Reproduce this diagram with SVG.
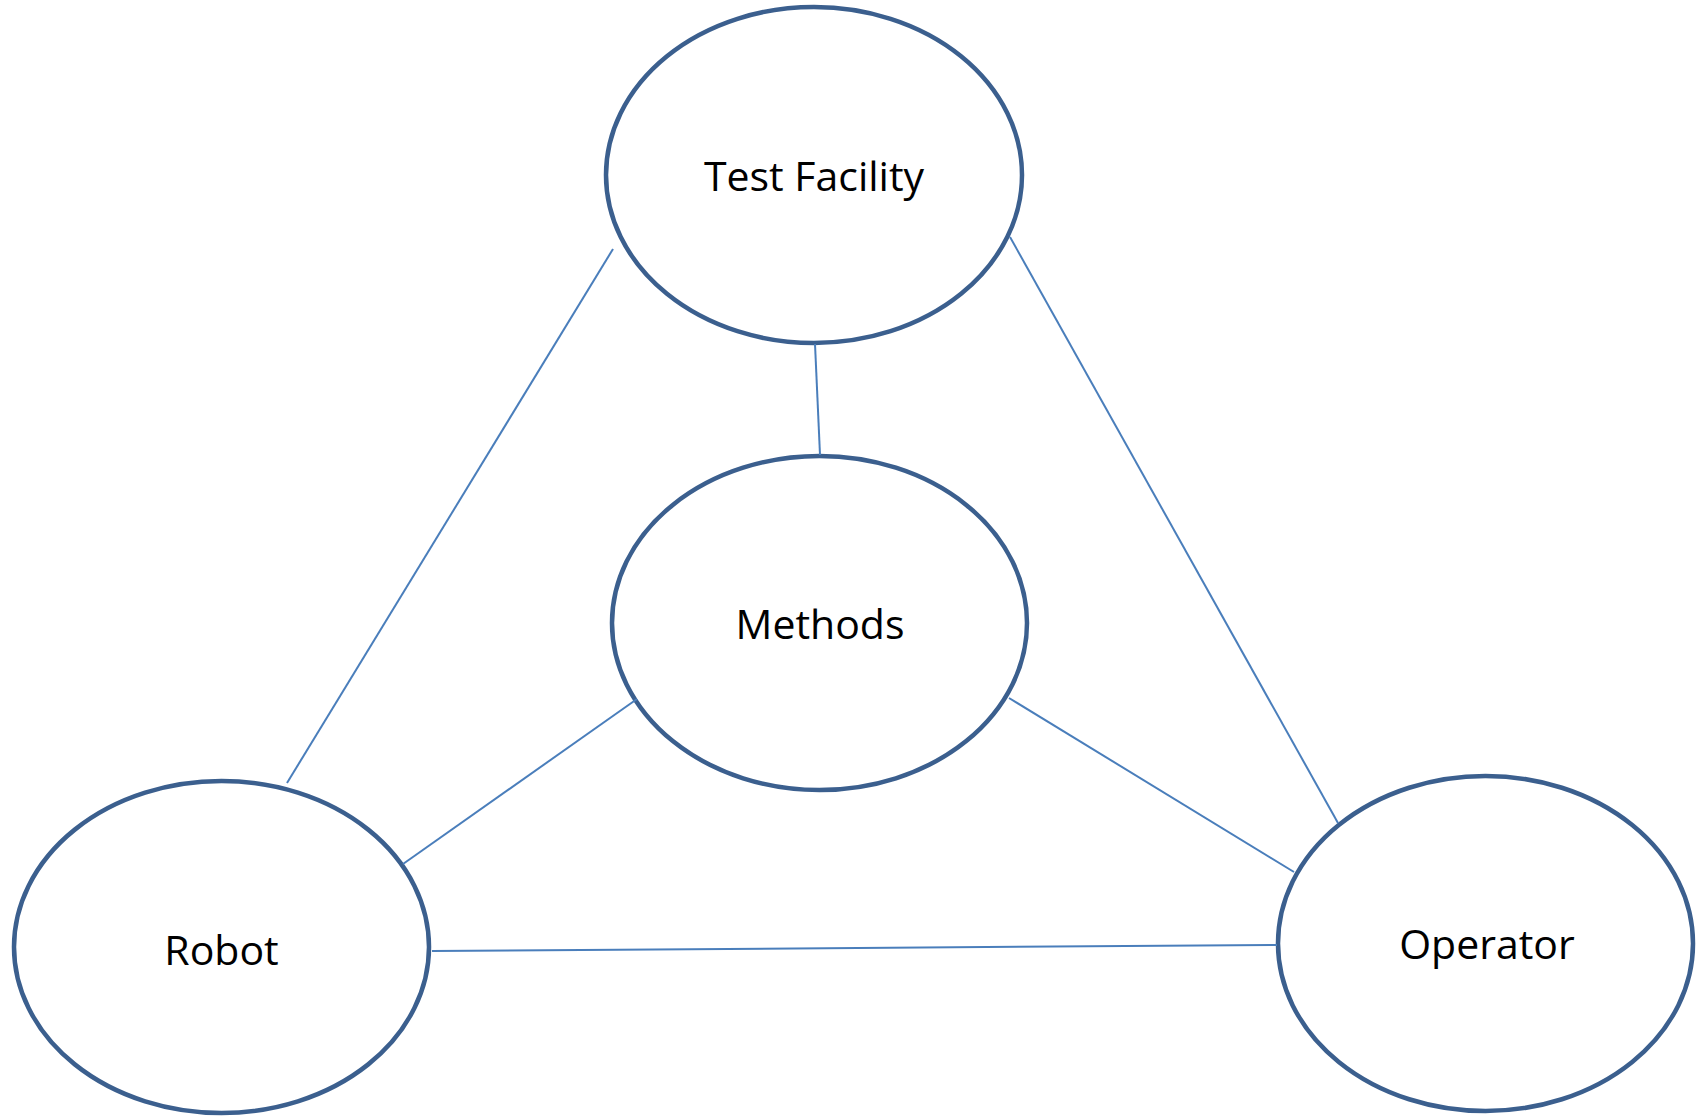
<svg xmlns="http://www.w3.org/2000/svg" width="1704" height="1116" viewBox="0 0 1704 1116">
<style>
.node ellipse{fill:#ffffff;stroke:#3b5f8e;stroke-width:4.5}
.node text{font-family:"Open Sans","Noto Sans","Liberation Sans",sans-serif;font-size:41px;fill:#000000;text-anchor:middle}
#connectors line{stroke:#4a7ebb;stroke-width:2;fill:none}
</style>
<rect width="1704" height="1116" fill="#ffffff"/>
<g id="node-test-facility" class="node">
<ellipse cx="814" cy="175" rx="208" ry="168"/>
<text x="814" y="191">Test Facility</text>
</g>
<g id="node-methods" class="node">
<ellipse cx="819.5" cy="623" rx="207.5" ry="167"/>
<text x="820" y="639">Methods</text>
</g>
<g id="node-robot" class="node">
<ellipse cx="221.5" cy="947" rx="207.5" ry="166"/>
<text x="221.5" y="965">Robot</text>
</g>
<g id="node-operator" class="node">
<ellipse cx="1485.5" cy="943.5" rx="207.5" ry="167.5"/>
<text x="1487" y="959">Operator</text>
</g>
<g id="connectors">
<line x1="613" y1="249" x2="287" y2="783"/>
<line x1="1010" y1="237" x2="1338" y2="823"/>
<line x1="815" y1="344" x2="820" y2="455"/>
<line x1="637" y1="699" x2="403" y2="864"/>
<line x1="1009" y1="698" x2="1294" y2="872"/>
<line x1="432" y1="951" x2="1277" y2="945"/>
</g>
</svg>
